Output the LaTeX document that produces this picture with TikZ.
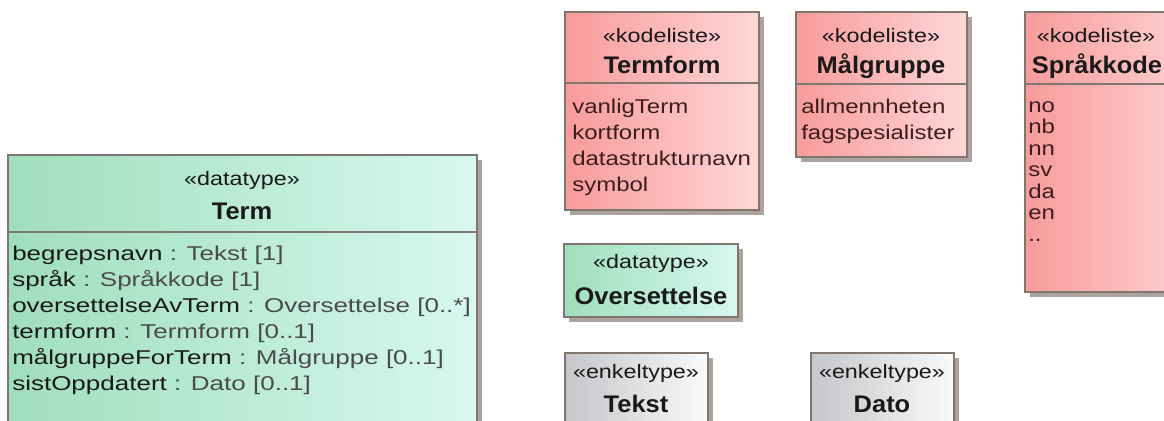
\documentclass[tikz,border=0pt]{standalone}
\usepackage{fontspec}
\usetikzlibrary{fit,shadows}
\newfontfamily\bodyf[FakeStretch=1.2]{Liberation Sans}
\newfontfamily\termf[FakeStretch=1.3]{Liberation Sans}
\newfontfamily\titlef[FakeStretch=1.06]{Liberation Sans}
\definecolor{grL}{RGB}{160,222,188}
\definecolor{grR}{RGB}{215,248,240}
\definecolor{rdL}{RGB}{248,155,155}
\definecolor{rdR}{RGB}{255,215,215}
\definecolor{gyL}{RGB}{198,198,203}
\definecolor{gyR}{RGB}{250,250,250}
\definecolor{bord}{RGB}{128,118,112}
\definecolor{shad}{RGB}{172,162,158}
\definecolor{txtd}{RGB}{25,25,25}
\definecolor{txtg}{RGB}{75,75,75}
\definecolor{txtr}{RGB}{60,30,30}
\tikzset{
  umlbox/.style={draw=bord, line width=1.1pt, inner sep=0pt,
    drop shadow={shadow xshift=3.5pt, shadow yshift=-3.5pt, fill=shad, opacity=1}},
  greenbox/.style={umlbox, left color=grL, right color=grR},
  redbox/.style={umlbox, left color=rdL, right color=rdR},
  greybox/.style={umlbox, left color=gyL, right color=gyR},
  sepline/.style={draw=bord, line width=1.1pt},
  stereo/.style={inner sep=0pt, anchor=base, text=txtd, font=\bodyf\fontsize{14.6}{16}\selectfont},
  titletxt/.style={inner sep=0pt, anchor=base, text=txtd, font=\titlef\bfseries\fontsize{18}{20}\selectfont},
  item/.style={inner sep=0pt, anchor=base west, text=txtr, font=\bodyf\fontsize{15}{17}\selectfont},
  attr/.style={inner sep=0pt, anchor=base west, text=txtd, font=\termf\fontsize{15}{17}\selectfont},
}
\begin{document}
\begin{tikzpicture}[x=0.75pt,y=-0.75pt]
\useasboundingbox (0,0) rectangle (1164,421);
\clip (0,0) rectangle (1164,421);
\fill[white] (0,0) rectangle (1164,421);

% Term
\node[greenbox, fit={(8,155) (477,450)}] (term) {};
\draw[sepline] (8,232) coordinate (tsa) -- (477,232) coordinate (tsb);
\node[stereo] (termst) at (242,185) {«datatype»};
\node[titletxt] (termti) at (242,219) {Term};
\node[attr] (a1) at (12,260) {begrepsnavn \textcolor{txtg}{: Tekst [1]}};
\node[attr] (a2) at (12,286) {språk \textcolor{txtg}{: Språkkode [1]}};
\node[attr] (a3) at (12,312) {oversettelseAvTerm \textcolor{txtg}{: Oversettelse [0..*]}};
\node[attr] (a4) at (12,338) {termform \textcolor{txtg}{: Termform [0..1]}};
\node[attr] (a5) at (12,364) {målgruppeForTerm \textcolor{txtg}{: Målgruppe [0..1]}};
\node[attr] (a6) at (12,390) {sistOppdatert \textcolor{txtg}{: Dato [0..1]}};

% Termform
\node[redbox, fit={(565,12) (759,210)}] (tf) {};
\draw[sepline] (565,83) coordinate (tfa) -- (759,83) coordinate (tfb);
\node[stereo] (tfst) at (662,42) {«kodeliste»};
\node[titletxt] (tfti) at (662,73) {Termform};
\node[item] (tf1) at (572,113) {vanligTerm};
\node[item] (tf2) at (572,139) {kortform};
\node[item] (tf3) at (572,165) {datastrukturnavn};
\node[item] (tf4) at (572,191) {symbol};

% Målgruppe
\node[redbox, fit={(796,12) (967,157)}] (mg) {};
\draw[sepline] (796,84) coordinate (mga) -- (967,84) coordinate (mgb);
\node[stereo] (mgst) at (881,42) {«kodeliste»};
\node[titletxt] (mgti) at (881,73) {Målgruppe};
\node[item] (mg1) at (801,113) {allmennheten};
\node[item] (mg2) at (801,139) {fagspesialister};

% Språkkode
\node[redbox, fit={(1025,12) (1210,292)}] (sk) {};
\draw[sepline] (1025,84) coordinate (ska) -- (1210,84) coordinate (skb);
\node[stereo] (skst) at (1096,42) {«kodeliste»};
\node[titletxt] (skti) at (1097,73) {Språkkode};
\node[item] (sk1) at (1028,112) {no};
\node[item] (sk2) at (1028,133.5) {nb};
\node[item] (sk3) at (1028,155) {nn};
\node[item] (sk4) at (1028,176.5) {sv};
\node[item] (sk5) at (1028,198) {da};
\node[item] (sk6) at (1028,219.5) {en};
\node[item] (sk7) at (1028,241) {..};

% Oversettelse
\node[greenbox, fit={(564,244) (738,317)}] (ov) {};
\node[stereo] (ovst) at (651,268) {«datatype»};
\node[titletxt] (ovti) at (651,304) {Oversettelse};

% Tekst
\node[greybox, fit={(565,353) (708,450)}] (tk) {};
\node[stereo] (tkst) at (636,378) {«enkeltype»};
\node[titletxt] (tkti) at (636,412) {Tekst};

% Dato
\node[greybox, fit={(811,353) (954,450)}] (dt) {};
\node[stereo] (dtst) at (882,378) {«enkeltype»};
\node[titletxt] (dtti) at (882,412) {Dato};
\end{tikzpicture}
\end{document}
